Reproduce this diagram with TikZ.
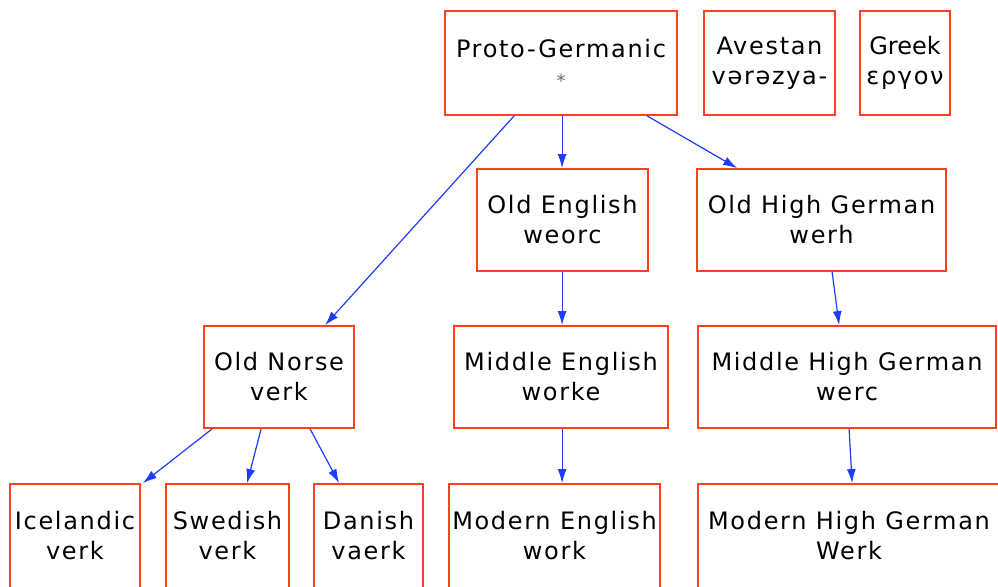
\documentclass[tikz,border=0pt]{standalone}
\usepackage{fontspec}
\setmainfont[LetterSpace=7]{DejaVu Sans}
\newfontfamily\tightfont{DejaVu Sans}
\usetikzlibrary{arrows.meta}
\definecolor{boxred}{RGB}{255,64,32}
\definecolor{arrblue}{RGB}{30,60,255}
\tikzset{
  lang/.style={draw=boxred, line width=1.8pt, fill=white, align=center, inner sep=0pt,
    font={\fontsize{24}{30}\selectfont}, text=black},
  link/.style={draw=arrblue, line width=1.2pt, -{Latex[length=14pt,width=9pt]}}
}
\begin{document}
\begin{tikzpicture}[x=1pt,y=-1pt]
\useasboundingbox (0,0) rectangle (998,586);
\node[lang, minimum width=232pt, minimum height=104pt] (pg) at (561,63) {Proto-Germanic\\{\color{black!60}\fontsize{18}{30}\selectfont *}};
\node[lang, minimum width=131pt, minimum height=104pt] (av) at (769.5,63) {Avestan\\vərəzya-};
\node[lang, minimum width=90pt, minimum height=104pt] (gr) at (905,63) {\tightfont Greek\\εργον};
\node[lang, minimum width=171pt, minimum height=102pt] (oe) at (562.5,220) {Old English\\weorc};
\node[lang, minimum width=249pt, minimum height=102pt] (ohg) at (821.5,220) {Old High German\\werh};
\node[lang, minimum width=150pt, minimum height=102pt] (on) at (279,377) {Old Norse\\verk};
\node[lang, minimum width=214pt, minimum height=102pt] (me) at (561,377) {Middle English\\worke};
\node[lang, minimum width=298pt, minimum height=102pt] (mhg) at (847,377) {Middle High German\\werc};
\node[lang, minimum width=130pt, minimum height=104pt] (ic) at (75,536) {Icelandic\\verk};
\node[lang, minimum width=123pt, minimum height=104pt] (sw) at (227.5,536) {Swedish\\verk};
\node[lang, minimum width=109pt, minimum height=104pt] (da) at (368.5,536) {Danish\\vaerk};
\node[lang, minimum width=211pt, minimum height=104pt] (moe) at (554.5,536) {Modern English\\work};
\node[lang, minimum width=302pt, minimum height=104pt] (mohg) at (849,536) {Modern High German\\Werk};
\draw[link] ([xshift=70pt]pg.south west) -- ([xshift=122pt]on.north west);
\draw[link] ([xshift=118pt]pg.south west) -- ([xshift=86pt]oe.north west);
\draw[link] ([xshift=203pt]pg.south west) -- ([xshift=41pt]ohg.north west);
\draw[link] ([xshift=86pt]oe.south west) -- ([xshift=109pt]me.north west);
\draw[link] ([xshift=136pt]ohg.south west) -- ([xshift=142pt]mhg.north west);
\draw[link] ([xshift=109pt]me.south west) -- ([xshift=114pt]moe.north west);
\draw[link] ([xshift=152pt]mhg.south west) -- ([xshift=155pt]mohg.north west);
\draw[link] ([xshift=9pt]on.south west) -- ([xshift=2pt]ic.north east);
\draw[link] ([xshift=58pt]on.south west) -- ([xshift=82pt]sw.north west);
\draw[link] ([xshift=107pt]on.south west) -- ([xshift=26pt]da.north west);
\end{tikzpicture}
\end{document}
